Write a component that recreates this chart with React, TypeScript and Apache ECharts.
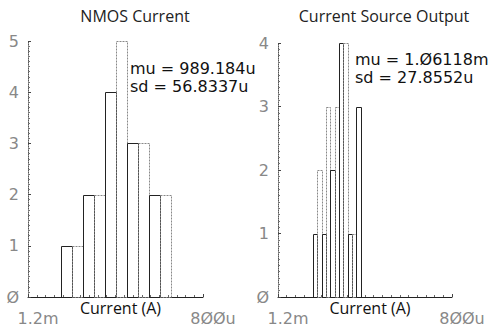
import React, { useEffect, useRef } from "react";
import * as echarts from "echarts";

// ---- data (currents in µA) ----
const leftTitle = "NMOS Current";
const rightTitle = "Current Source Output";
const xAxisName = "Current (A)";
const leftBinEdges = [1124, 1099, 1074, 1049, 1024, 999, 974, 949, 924, 899, 874];
const leftCounts = [1, 1, 2, 2, 4, 5, 3, 3, 2, 2];
const rightBinEdges = [1120, 1110, 1100, 1090, 1080, 1070, 1060, 1050, 1040, 1030, 1020, 1010];
const rightCounts = [1, 2, 1, 3, 2, 3, 4, 4, 1, 1, 3];
const xMin = 800;
const xMax = 1200;
const xTickLabels: Record<number, string> = { 1200: "1.2m", 800: "8ØØu" };
const leftYMax = 5;
const rightYMax = 4;
const leftStats = ["mu = 989.184u", "sd = 56.8337u"];
const rightStats = ["mu = 1.Ø6118m", "sd = 27.8552u"];

const yLabel = (v: number) => (v === 0 ? "Ø" : String(v));

function makeXAxis(gridIndex: number) {
  return {
    type: "value",
    gridIndex,
    min: xMin,
    max: xMax,
    interval: 400,
    inverse: true,
    name: xAxisName,
    nameLocation: "middle",
    nameGap: 3,
    nameMoveOverlap: false,
    nameTextStyle: { fontFamily: "Open Sans", fontSize: 16, color: "#111", verticalAlign: "top", padding: [0, 0, 0, 10] },
    axisLine: { show: true, lineStyle: { color: "#222", width: 1 } },
    axisTick: { show: true, inside: true, length: 3, lineStyle: { color: "#444" } },
    minorTick: { show: true, splitNumber: 20, length: 2, lineStyle: { color: "#666" } },
    splitLine: { show: false },
    axisLabel: {
      margin: 13,
      fontFamily: "DejaVu Sans",
      fontSize: 16,
      color: "#888",
      padding: [0, 0, 0, 20],
      formatter: (v: number) => xTickLabels[v] ?? "",
    },
  };
}

function makeYAxis(gridIndex: number, max: number) {
  return {
    type: "value",
    gridIndex,
    min: 0,
    max,
    interval: 1,
    axisLine: { show: true, lineStyle: { color: "#555", type: "dotted", width: 1 } },
    axisTick: { show: true, inside: true, length: 3, lineStyle: { color: "#444" } },
    minorTick: { show: true, splitNumber: 10, length: 2, lineStyle: { color: "#777" } },
    splitLine: { show: false },
    axisLabel: {
      margin: 9,
      fontFamily: "DejaVu Sans",
      fontSize: 16,
      color: "#888",
      formatter: yLabel,
    },
  };
}

function makeSeries(edges: number[], counts: number[], idx: number) {
  const data = counts.map((c, i) => [edges[i], edges[i + 1], c]);
  return {
    type: "custom",
    xAxisIndex: idx,
    yAxisIndex: idx,
    data,
    encode: { x: [0, 1], y: 2 },
    renderItem: (params: any, api: any) => {
      const a = api.coord([api.value(0), api.value(2)]);
      const b = api.coord([api.value(1), 0]);
      const x0 = Math.round(Math.min(a[0], b[0]));
      const x1 = Math.round(Math.max(a[0], b[0]));
      const y0 = Math.round(a[1]);
      const y1 = Math.round(b[1]);
      const solid = params.dataIndex % 2 === 0;
      return {
        type: "rect",
        shape: { x: x0 + 0.5, y: y0 + 0.5, width: x1 - x0, height: y1 - y0 },
        style: {
          fill: "none",
          stroke: solid ? "#222" : "#888",
          lineWidth: 1,
          lineDash: solid ? null : [2, 1],
        },
      };
    },
  };
}

export default function App() {
  const ref = useRef<HTMLDivElement>(null);
  useEffect(() => {
    if (!ref.current) return;
    const chart = echarts.init(ref.current, undefined, { renderer: "svg" });
    chart.setOption({
      animation: false,
      backgroundColor: "#fff",
      grid: [
        { left: 28, right: 288, top: 41, bottom: 30, containLabel: false, outerBoundsMode: "none" },
        { left: 278, right: 39, top: 43, bottom: 30, containLabel: false, outerBoundsMode: "none" },
      ],
      xAxis: [makeXAxis(0), makeXAxis(1)],
      yAxis: [makeYAxis(0, leftYMax), makeYAxis(1, rightYMax)],
      series: [makeSeries(leftBinEdges, leftCounts, 0), makeSeries(rightBinEdges, rightCounts, 1)],
      graphic: [
        {
          type: "text",
          x: 135,
          y: 16,
          style: { text: leftTitle, fontFamily: "Open Sans", fontSize: 16, fill: "#222", align: "center", verticalAlign: "middle" },
        },
        {
          type: "text",
          x: 384,
          y: 16,
          style: { text: rightTitle, fontFamily: "Open Sans", fontSize: 16, fill: "#222", align: "center", verticalAlign: "middle" },
        },
        {
          type: "text",
          x: 130,
          y: 59,
          style: { text: leftStats.join("\n"), fontFamily: "DejaVu Sans", fontSize: 16, lineHeight: 18, fill: "#111", align: "left", verticalAlign: "top" },
        },
        {
          type: "text",
          x: 355,
          y: 50,
          style: { text: rightStats.join("\n"), fontFamily: "DejaVu Sans", fontSize: 16, lineHeight: 18, fill: "#111", align: "left", verticalAlign: "top" },
        },
      ],
    });
    return () => chart.dispose();
  }, []);
  return <div ref={ref} style={{ position: "fixed", left: 0, top: 0, width: 491, height: 327 }} />;
}
